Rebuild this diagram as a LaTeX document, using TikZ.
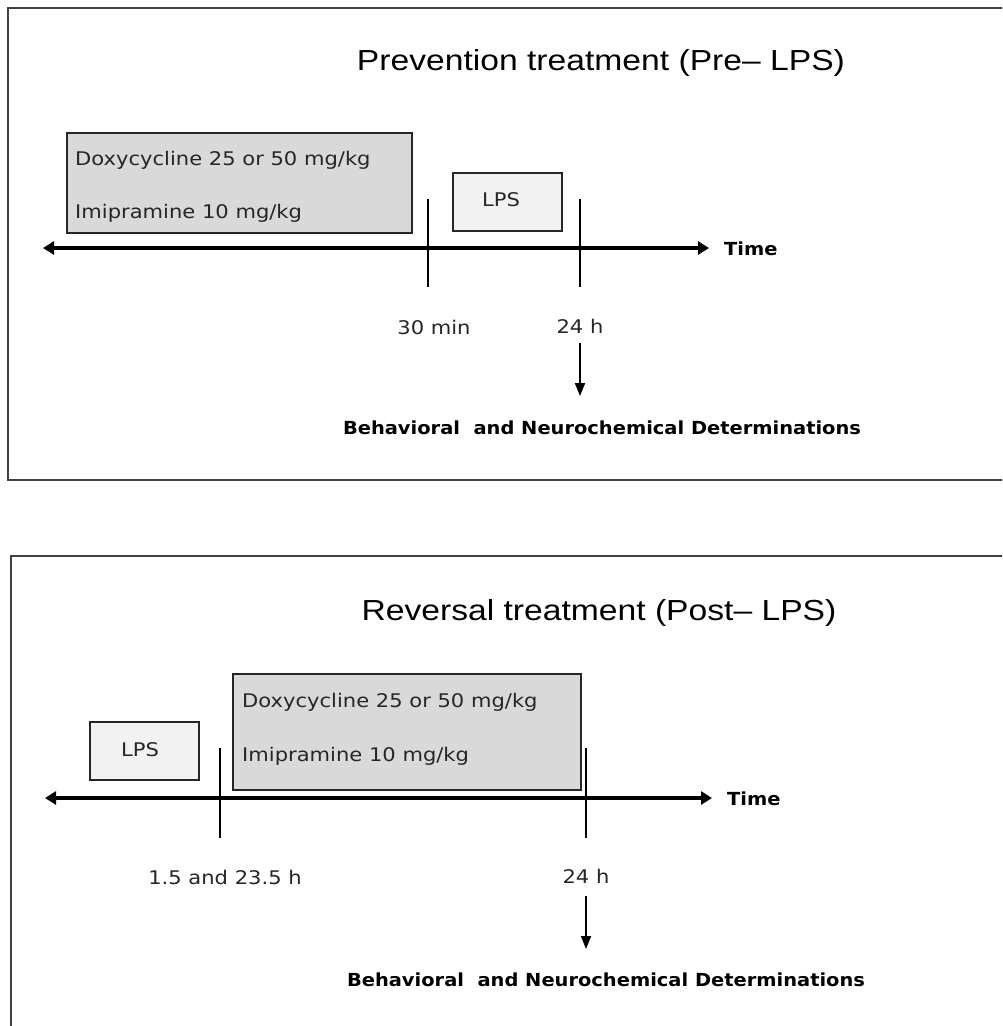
\documentclass[tikz,border=0pt]{standalone}
\usepackage{fontspec}
\setmainfont{DejaVu Sans}
\newfontfamily\titlefont{Liberation Sans}
\usetikzlibrary{arrows.meta}
\newcommand\widetxt[2]{\scalebox{#1}[1]{#2}}
\begin{document}
\begin{tikzpicture}[x=1pt,y=-1pt,
  frame/.style={draw=black!75, line width=2pt},
  drugbox/.style={draw=black!85, line width=1.5pt, fill=black!15, anchor=north west, inner sep=0pt},
  lpsbox/.style={draw=black!85, line width=1.5pt, fill=black!5, anchor=north west, inner sep=0pt},
  axisline/.style={line width=3.5pt, {Triangle[length=11pt,width=13pt]}-{Triangle[length=11pt,width=13pt]}},
  tickline/.style={line width=2pt},
  downarrow/.style={line width=2pt, -{Triangle[length=13pt,width=10pt]}},
  ttl/.style={font=\titlefont\fontsize{29}{32}\selectfont, inner sep=0pt},
  txt/.style={font=\fontsize{18.8}{22}\selectfont, inner sep=0pt, text=black!85},
  btxt/.style={font=\bfseries\fontsize{18}{21}\selectfont, inner sep=0pt},
]
\useasboundingbox[fill=white] (0,0) rectangle (1002,1026);
\clip (0,0) rectangle (1002,1026);

% ---------- Top panel ----------
\draw[frame] (8,8) rectangle (1012,480);
\node[ttl] (title1) at (601,63) {\widetxt{1.16}{Prevention treatment (Pre– LPS)}};

\node[drugbox, minimum width=345pt, minimum height=100pt] (drug1) at (66,132) {};
\node[txt, anchor=west] (doxy1) at (75,160) {\widetxt{1.12}{Doxycycline 25 or 50 mg/kg}};
\node[txt, anchor=west] (imi1) at (75,213) {\widetxt{1.12}{Imipramine 10 mg/kg}};

\node[lpsbox, minimum width=109pt, minimum height=58pt] (lps1) at (452,172) {};
\node[txt] (lpst1) at (501,200) {\widetxt{1.12}{LPS}};

\coordinate (axL1) at (43,248);
\coordinate (axR1) at (709,248);
\draw[axisline] (axL1) -- (axR1);
\node[btxt, anchor=west] (time1) at (724,249) {\widetxt{1.08}{Time}};

\coordinate (t1a) at (428,199); \coordinate (t1b) at (428,287);
\coordinate (t2a) at (580,199); \coordinate (t2b) at (580,287);
\draw[tickline] (t1a) -- (t1b);
\draw[tickline] (t2a) -- (t2b);

\node[txt] (min30) at (434,327) {\widetxt{1.12}{30 min}};
\node[txt] (h24a) at (580,326) {\widetxt{1.12}{24 h}};

\coordinate (d1a) at (580,343); \coordinate (d1b) at (580,396);
\draw[downarrow] (d1a) -- (d1b);
\node[btxt] (beh1) at (602,428) {\widetxt{1.08}{Behavioral\ \ and Neurochemical Determinations}};

% ---------- Bottom panel ----------
\draw[frame] (11,556) rectangle (1012,1040);
\node[ttl] (title2) at (599,613) {\widetxt{1.16}{Reversal treatment (Post– LPS)}};

\node[drugbox, minimum width=348pt, minimum height=116pt] (drug2) at (232,673) {};
\node[txt, anchor=west] (doxy2) at (242,702) {\widetxt{1.12}{Doxycycline 25 or 50 mg/kg}};
\node[txt, anchor=west] (imi2) at (242,756) {\widetxt{1.12}{Imipramine 10 mg/kg}};

\node[lpsbox, minimum width=109pt, minimum height=58pt] (lps2) at (89,721) {};
\node[txt] (lpst2) at (140,750) {\widetxt{1.12}{LPS}};

\coordinate (axL2) at (45,798);
\coordinate (axR2) at (712,798);
\draw[axisline] (axL2) -- (axR2);
\node[btxt, anchor=west] (time2) at (727,799) {\widetxt{1.08}{Time}};

\coordinate (t3a) at (220,748); \coordinate (t3b) at (220,838);
\coordinate (t4a) at (586,748); \coordinate (t4b) at (586,838);
\draw[tickline] (t3a) -- (t3b);
\draw[tickline] (t4a) -- (t4b);

\node[txt] (h15) at (225,877) {\widetxt{1.12}{1.5 and 23.5 h}};
\node[txt] (h24b) at (586,876) {\widetxt{1.12}{24 h}};

\coordinate (d2a) at (586,896); \coordinate (d2b) at (586,949);
\draw[downarrow] (d2a) -- (d2b);
\node[btxt] (beh2) at (606,980) {\widetxt{1.08}{Behavioral\ \ and Neurochemical Determinations}};
\end{tikzpicture}
\end{document}
